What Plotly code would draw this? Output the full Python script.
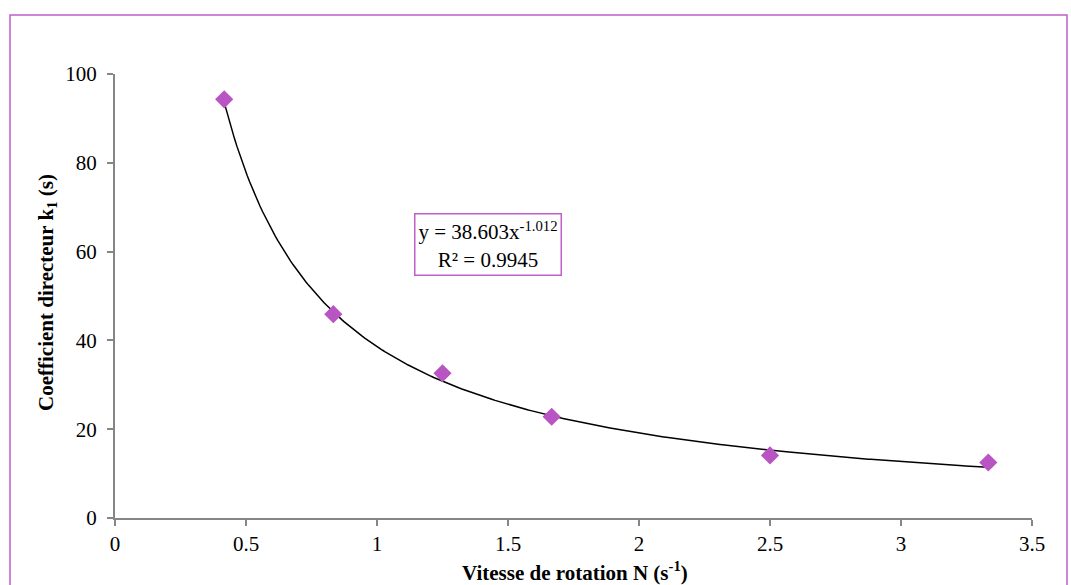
import numpy as np
import plotly.graph_objects as go

# Data
speed_N = [0.4167, 0.8333, 1.25, 1.6667, 2.5, 3.3333]
coef_k1 = [94.3, 45.9, 32.6, 22.8, 14.1, 12.5]

# Power trendline parameters as printed on the chart
fit_a = 38.603
fit_b = -1.012
fit_r2 = 0.9945

x_ticks = [0, 0.5, 1, 1.5, 2, 2.5, 3, 3.5]
y_ticks = [0, 20, 40, 60, 80, 100]

W, H = 1071, 585
ml, mr, mt, mb = 115, 39, 74, 67
pw, ph = W - ml - mr, H - mt - mb

purple = "#B955C2"
border_purple = "#C060C8"
axis_grey = "#868686"
font_fam = "Liberation Serif, Times New Roman, serif"
fs = 21

xs = np.linspace(min(speed_N), max(speed_N), 300)
ys = fit_a * xs ** fit_b

fig = go.Figure()
fig.add_trace(go.Scatter(x=xs, y=ys, mode="lines",
                         line=dict(color="black", width=1.5),
                         hoverinfo="skip", showlegend=False))
fig.add_trace(go.Scatter(x=speed_N, y=coef_k1, mode="markers",
                         marker=dict(symbol="diamond", size=14, color=purple),
                         showlegend=False))

def px_x(px):
    return (px - ml) / pw

def px_y(py):
    return (H - mb - py) / ph

# outer chart border
fig.add_shape(type="rect", xref="paper", yref="paper",
              x0=px_x(10), x1=px_x(1067), y0=px_y(600), y1=px_y(15),
              line=dict(color=border_purple, width=1.5), layer="below")

fig.add_annotation(
    x=px_x(488), y=px_y(244), xref="paper", yref="paper",
    text=f"y = {fit_a}x<sup>{fit_b}</sup><br>R² = {fit_r2}",
    showarrow=False, font=dict(family=font_fam, size=fs, color="black"),
    bordercolor=border_purple, borderwidth=1.5, borderpad=3, bgcolor="white",
    align="center")

fig.add_annotation(
    x=px_x(575), y=px_y(571), xref="paper", yref="paper",
    text="<b>Vitesse de rotation N (s<sup>-1</sup>)</b>",
    showarrow=False, xanchor="center", yanchor="middle",
    font=dict(family=font_fam, size=fs, color="black"))

fig.add_annotation(
    x=px_x(47), y=px_y(293), xref="paper", yref="paper",
    text="<b>Coefficient directeur k<sub>1</sub> (s)</b>",
    showarrow=False, xanchor="center", yanchor="middle", textangle=-90,
    font=dict(family=font_fam, size=fs, color="black"))

fig.update_layout(
    width=W, height=H,
    margin=dict(l=ml, r=mr, t=mt, b=mb),
    paper_bgcolor="white", plot_bgcolor="white",
    font=dict(family=font_fam, size=fs, color="black"),
    xaxis=dict(range=[0, 3.5], tickvals=x_ticks, ticktext=[f"{v:g}" for v in x_ticks],
               showgrid=False, zeroline=False, showline=True, linecolor=axis_grey, linewidth=2,
               ticks="outside", ticklen=6, tickcolor=axis_grey, tickwidth=1.5,
               tickfont=dict(family=font_fam, size=fs, color="black")),
    yaxis=dict(range=[0, 100], tickvals=y_ticks,
               showgrid=False, zeroline=False, showline=True, linecolor=axis_grey, linewidth=2,
               ticks="outside", ticklen=6, tickcolor=axis_grey, tickwidth=1.5,
               ticklabelstandoff=6,
               tickfont=dict(family=font_fam, size=fs, color="black")),
)

fig.write_html("out.html", config={"displayModeBar": False},
               post_script="document.body.style.margin='0';")
